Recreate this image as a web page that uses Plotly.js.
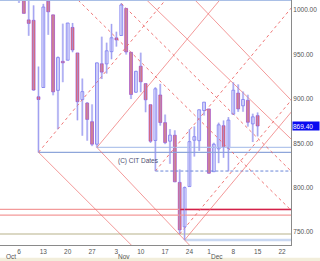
<!DOCTYPE html>
<html><head><meta charset="utf-8">
<script src="https://cdn.plot.ly/plotly-3.0.1.min.js"></script>
<style>html,body{margin:0;padding:0;background:#fff;}#chart{width:320px;height:261px;}</style>
</head><body><div id="chart"></div>
<script>
// ---- candle data (S&P 500) ----
const dates = ['2008-10-06','2008-10-07','2008-10-08','2008-10-09','2008-10-10','2008-10-13','2008-10-14','2008-10-15','2008-10-16','2008-10-17',
'2008-10-20','2008-10-21','2008-10-22','2008-10-23','2008-10-24','2008-10-27','2008-10-28','2008-10-29','2008-10-30','2008-10-31',
'2008-11-03','2008-11-04','2008-11-05','2008-11-06','2008-11-07','2008-11-10','2008-11-11','2008-11-12','2008-11-13','2008-11-14',
'2008-11-17','2008-11-18','2008-11-19','2008-11-20','2008-11-21','2008-11-24','2008-11-25','2008-11-26','2008-11-28',
'2008-12-01','2008-12-02','2008-12-03','2008-12-04','2008-12-05','2008-12-08','2008-12-09','2008-12-10','2008-12-11','2008-12-12','2008-12-15'];
const open  = [1097.56,1057.60,988.91,988.42,902.31,912.75,1009.97,994.60,909.53,942.29,
943.51,980.40,951.67,899.08,895.22,874.28,848.92,939.51,939.38,953.11,
968.67,971.31,1001.84,952.40,907.44,936.75,917.15,893.39,853.13,904.36,
873.23,852.34,859.03,805.87,755.84,801.20,853.40,852.90,886.89,
888.61,817.94,843.60,869.75,844.43,882.71,906.48,892.17,898.35,871.79,881.07];
const high  = [1097.56,1072.91,1021.06,1005.25,936.36,1006.93,1044.31,994.60,947.71,984.64,
985.40,985.44,951.67,922.83,896.30,893.78,940.51,969.97,963.23,984.38,
975.57,1007.51,1001.84,952.40,931.46,951.95,917.15,893.39,913.01,916.88,
882.29,865.90,864.57,820.52,801.20,865.60,868.94,887.68,896.25,
888.61,850.54,873.12,875.60,879.42,918.57,916.26,908.27,904.63,883.24,884.63];
const low   = [1007.97,996.23,970.97,909.19,839.80,912.75,972.07,903.99,865.83,918.74,
943.51,952.47,875.81,858.44,852.85,846.75,845.27,922.26,928.50,944.59,
958.82,971.31,949.86,899.73,906.90,907.47,884.90,850.48,818.69,869.88,
848.98,826.84,806.18,747.78,741.02,801.20,834.99,841.37,881.21,
815.69,817.94,827.60,833.60,818.41,882.71,885.38,885.45,868.73,851.35,857.72];
const close = [1056.89,996.23,984.94,909.92,899.22,1003.35,998.01,907.84,946.43,940.55,
985.40,955.05,896.78,908.11,876.77,848.92,940.51,930.09,954.09,968.75,
966.30,1005.75,952.77,904.88,930.99,919.21,898.95,852.30,911.29,873.29,
850.75,859.12,806.58,752.44,800.03,851.81,857.39,887.68,896.24,
816.21,848.81,870.74,845.22,876.07,909.70,888.67,899.24,873.59,879.73,869.40];
const lastPrice = 869.40;

// ---- axis labels ----
const tickDates  = ['2008-10-06','2008-10-13','2008-10-20','2008-10-27','2008-11-03','2008-11-10','2008-11-17','2008-11-24','2008-12-01','2008-12-08','2008-12-15','2008-12-22'];
const tickLabels = ['6','13','20','27','3','10','17','24','1','8','15','22'];
const monthNames  = ['Oct','Nov','Dec'];
const monthStarts = ['2008-10-01','2008-11-03','2008-12-01'];
const priceTicks = [750,800,850,900,950,1000];
const holidays = ['2008-11-27','2008-12-25'];

// ---- Gann / CIT lines (date, price -> date, price) ----
const gannFromDate  = ['2008-10-10','2008-10-28','2008-10-28','2008-11-21','2008-11-07','2008-11-21','2008-10-10','2008-10-14','2008-11-13','2008-11-04','2008-11-20'];
const gannFromPrice = [839.80,845.27,845.27,741.02,1023.0,1023.5,839.80,1044.31,818.69,1007.51,747.78];
const gannToDate    = ['2008-11-07','2008-12-09','2008-11-24','2008-12-29','2008-12-29','2008-12-29','2008-11-19','2008-12-29','2008-12-29','2008-12-29','2008-12-29'];
const gannToPrice   = [730.2,1036.1,735.3,898.9,843.5,886.3,1024.0,763.0,1016.1,807.0,912.3];
const gannDotted    = [false,false,false,false,false,false,true,true,true,true,true];

// ---- horizontal levels ----
const levelPrice = [839.80,845.27,818.69,775.5,775.5,769.0,747.78,741.02];
const levelFrom  = ['2008-10-10','2008-10-28','2008-11-13','2008-09-29','2008-11-20','2008-09-29','2008-09-29','2008-11-21'];
const levelTo    = '2008-12-31';
const levelStyle = [
  {color:'#8ea6da', width:1.3, dash:'solid'},
  {color:'#b3c6ec', width:1.2, dash:'solid'},
  {color:'#6a86d8', width:1, dash:'3px,2px'},
  {color:'#f39a9a', width:1.3, dash:'solid'},
  {color:'#d3204a', width:1.5, dash:'solid'},
  {color:'#f39a9a', width:1.3, dash:'solid'},
  {color:'#cfcbb0', width:1.5, dash:'solid'},
  {color:'#c9d8f2', width:2.5, dash:'solid'}
];

// ---- trading-day calendar ----
function buildCalendar(){
  const list=[]; let t=Date.UTC(2008,8,22);
  while(t<=Date.UTC(2009,0,9)){
    const d=new Date(t), wd=d.getUTCDay(), s=d.toISOString().slice(0,10);
    if(wd!==0 && wd!==6 && !holidays.includes(s)) list.push(s);
    t+=86400000;
  }
  return list;
}
const cal = buildCalendar();
const base = cal.indexOf('2008-10-06');
const dayIndex = s => cal.indexOf(s) - base;

const xi = dates.map(dayIndex);
const traces = [];

levelPrice.forEach((p,k)=>{
  traces.push({type:'scatter', mode:'lines', x:[dayIndex(levelFrom[k]), dayIndex(levelTo)], y:[p,p],
    line:levelStyle[k], hoverinfo:'skip'});
});
gannFromDate.forEach((d,k)=>{
  traces.push({type:'scatter', mode:'lines', x:[dayIndex(d), dayIndex(gannToDate[k])], y:[gannFromPrice[k], gannToPrice[k]],
    line:gannDotted[k] ? {color:'rgba(236,96,96,0.85)', width:1, dash:'dot'} : {color:'rgba(238,110,110,0.7)', width:1},
    hoverinfo:'skip'});
});

// wick halo
traces.push({type:'bar', x:xi, base:low, y:high.map((h,i)=>h-low[i]), width:0.48,
  marker:{color:'#d8d8f8', line:{width:0}}, hoverinfo:'skip'});
// wick core
const wx=[], wy=[];
xi.forEach((x,i)=>{ wx.push(x,x,null); wy.push(low[i],high[i],null); });
traces.push({type:'scatter', mode:'lines', x:wx, y:wy, line:{color:'#9090ef', width:0.8}, hoverinfo:'skip', connectgaps:false});

// bodies
const upI = [], dnI = [];
close.forEach((c,i)=>{ (c>=open[i] ? upI : dnI).push(i); });
traces.push({type:'bar', x:upI.map(i=>xi[i]), base:upI.map(i=>open[i]), y:upI.map(i=>Math.max(close[i]-open[i],0.6)), width:0.58,
  marker:{color:'#ffffff', line:{color:'#7272f0', width:0.8}}, hoverinfo:'skip'});
traces.push({type:'bar', x:dnI.map(i=>xi[i]), base:dnI.map(i=>close[i]), y:dnI.map(i=>Math.max(open[i]-close[i],0.6)), width:0.6,
  marker:{color:'#f7785a', line:{color:'#8a3ad8', width:0.6}}, hoverinfo:'skip'});

const annotations = monthNames.map((m,k)=>({
  xref:'x', yref:'paper', x:dayIndex(monthStarts[k]), y:-0.045, xanchor:'left', yanchor:'middle',
  text:m, showarrow:false, font:{size:6.5, color:'#555'}
}));
annotations.push({xref:'x', yref:'y', x:dayIndex('2008-11-03'), y:830, xanchor:'left', yanchor:'middle',
  text:'(C) CIT Dates', showarrow:false, font:{size:6.5, color:'#4e4e70'}});
annotations.push({xref:'paper', yref:'y', x:1, y:lastPrice, xanchor:'left', yanchor:'middle', xshift:1,
  text:lastPrice.toFixed(2), showarrow:false, bgcolor:'#0a0af0', font:{size:6.5, color:'#ffffff'},
  width:26, height:8, align:'left', borderpad:0});

const layout = {
  width:320, height:261, margin:{l:0, r:29, t:0, b:16, pad:0},
  paper_bgcolor:'#ffffff', plot_bgcolor:'#ffffff', showlegend:false, barmode:'overlay',
  font:{family:'Liberation Sans, Arial, sans-serif', size:6.5, color:'#555'},
  xaxis:{range:[-3.9,55.85], tickmode:'array', tickvals:tickDates.map(dayIndex), ticktext:tickLabels,
    ticks:'', showgrid:false, zeroline:false, showline:true, linecolor:'#8a8a8a', linewidth:1,
    tickfont:{size:6.5, color:'#555'}, fixedrange:true},
  yaxis:{side:'right', range:[735.4,1011.3], tickmode:'array', tickvals:priceTicks, ticktext:priceTicks.map(v=>v.toFixed(2)),
    ticks:'', showgrid:false, zeroline:false, showline:true, linecolor:'#8a8a8a', linewidth:1,
    tickfont:{size:6.5, color:'#555'}, fixedrange:true},
  shapes:[
    {type:'line', xref:'paper', yref:'paper', x0:0, x1:1, y0:1, y1:1, line:{color:'#a9bfe6', width:2}},
    {type:'rect', xref:'paper', yref:'paper', x0:0, x1:1.1, y0:-0.0653, y1:-0.052, fillcolor:'#f2eedb', line:{width:0}, layer:'above'}
  ],
  annotations:annotations
};
Plotly.newPlot('chart', traces, layout, {staticPlot:true, displayModeBar:false});
</script></body></html>
